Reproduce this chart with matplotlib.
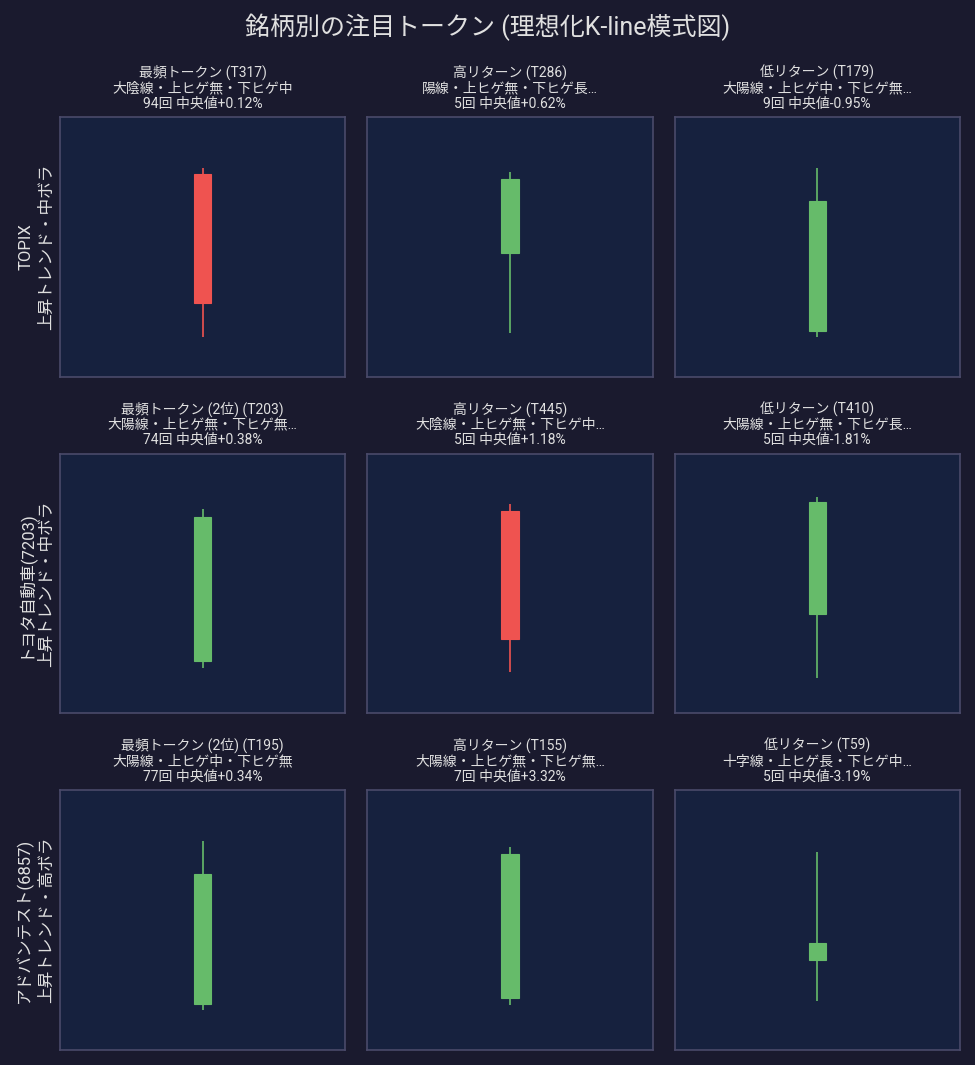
import matplotlib
matplotlib.use("Agg")
import matplotlib.pyplot as plt

plt.rcParams["font.family"] = ["Roboto", "Noto Sans CJK JP", "DejaVu Sans"]

BG = "#1a1a2e"
FACE = "#16213e"
SPINE = "#4a4a6a"
TEXT = "#e0e0e0"
UP = "#66bb6a"
DOWN = "#ef5350"

row_labels = [
    "TOPIX\n上昇トレンド・中ボラ",
    "トヨタ自動車(7203)\n上昇トレンド・中ボラ",
    "アドバンテスト(6857)\n上昇トレンド・高ボラ",
]

kinds = ["最頻トークン", "高リターン", "低リターン",
         "最頻トークン (2位)", "高リターン", "低リターン",
         "最頻トークン (2位)", "高リターン", "低リターン"]
tokens = ["T317", "T286", "T179", "T203", "T445", "T410", "T195", "T155", "T59"]
patterns = [
    "大陰線・上ヒゲ無・下ヒゲ中",
    "陽線・上ヒゲ無・下ヒゲ長…",
    "大陽線・上ヒゲ中・下ヒゲ無…",
    "大陽線・上ヒゲ無・下ヒゲ無…",
    "大陰線・上ヒゲ無・下ヒゲ中…",
    "大陽線・上ヒゲ無・下ヒゲ長…",
    "大陽線・上ヒゲ中・下ヒゲ無",
    "大陽線・上ヒゲ無・下ヒゲ無…",
    "十字線・上ヒゲ長・下ヒゲ中…",
]
counts = [94, 5, 9, 74, 5, 5, 77, 7, 5]
medians = [0.12, 0.62, -0.95, 0.38, 1.18, -1.81, 0.34, 3.32, -3.19]

# idealized candle shape (normalized scale 0-100)
opens = [78.1, 47.7, 17.7, 20.0, 78.1, 38.1, 17.7, 20.0, 34.6]
highs = [80.4, 78.8, 80.4, 78.5, 80.8, 83.5, 80.4, 78.1, 76.2]
lows = [15.4, 16.9, 15.4, 17.3, 15.8, 13.5, 15.4, 17.3, 18.8]
closes = [28.5, 76.2, 67.7, 75.8, 28.5, 81.2, 67.7, 75.4, 41.2]

fig, axes = plt.subplots(3, 3, figsize=(9.75, 10.65), dpi=100)
fig.patch.set_facecolor(BG)
fig.subplots_adjust(left=0.0615, right=0.9846, top=0.8901, bottom=0.0141,
                    wspace=0.077, hspace=0.296)

for i, ax in enumerate(axes.flat):
    o, h, l, c = opens[i], highs[i], lows[i], closes[i]
    color = UP if c >= o else DOWN
    ax.set_facecolor(FACE)
    ax.vlines(0, l, h, color=color, linewidth=1.2, zorder=1)
    ax.bar(0, abs(c - o), width=0.12, bottom=min(o, c), color=color,
           edgecolor=color, linewidth=0.8, zorder=2)
    ax.set_xlim(-1, 1)
    ax.set_ylim(0, 100)
    ax.set_xticks([])
    ax.set_yticks([])
    for s in ax.spines.values():
        s.set_color(SPINE)
        s.set_linewidth(1.2)
    sign = "+" if medians[i] >= 0 else ""
    ax.set_title(f"{kinds[i]} ({tokens[i]})\n{patterns[i]}\n"
                 f"{counts[i]}回 中央値{sign}{medians[i]:.2f}%",
                 fontsize=10, color=TEXT, pad=7, linespacing=1.1)

for r, label in enumerate(row_labels):
    axes[r, 0].set_ylabel(label, fontsize=12, color=TEXT, linespacing=1.5)

fig.suptitle("銘柄別の注目トークン (理想化K-line模式図)", fontsize=18,
             color=TEXT, y=0.9746, va="center")

fig.savefig("out.png", dpi=100, facecolor=BG)
